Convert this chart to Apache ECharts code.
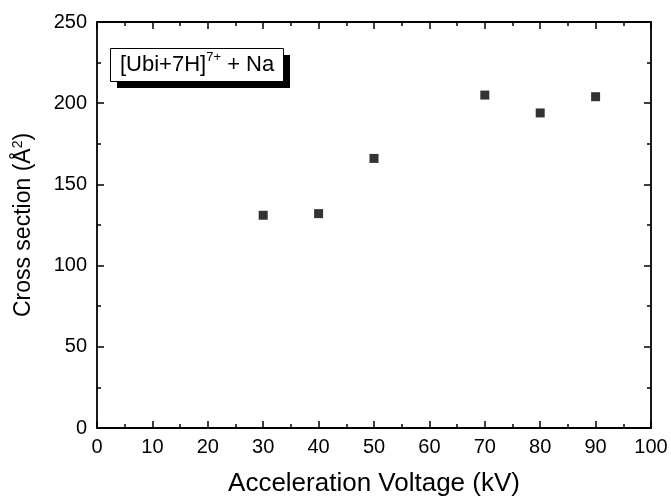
<!DOCTYPE html>
<html><head><meta charset="utf-8">
<script src="https://cdn.jsdelivr.net/npm/echarts@6/dist/echarts.min.js"></script>
<style>html,body{margin:0;padding:0;background:#fff}#c{width:671px;height:498px}</style>
</head><body><div id="c"></div>
<script>
var voltages = [30, 40, 50, 70, 80, 90];
var crossSections = [131, 132, 166, 205, 194, 204];
var xTicks = [0, 10, 20, 30, 40, 50, 60, 70, 80, 90, 100];
var yTicks = [0, 50, 100, 150, 200, 250];

var chart = echarts.init(document.getElementById('c'));
var font = 'Liberation Sans, Arial, sans-serif';
function axisCommon(extra) {
  var o = {
    axisLine: {show: true, onZero: false, lineStyle: {color: '#000', width: 1.8}},
    axisTick: {show: true, inside: true, length: 7, lineStyle: {color: '#000', width: 1.5}},
    minorTick: {show: true, splitNumber: 2, length: 4, lineStyle: {color: '#000', width: 1.5}},
    splitLine: {show: false},
    minorSplitLine: {show: false}
  };
  for (var k in extra) o[k] = extra[k];
  return o;
}
chart.setOption({
  animation: false,
  grid: {left: 97, right: 20, top: 22, bottom: 70, containLabel: false, outerBoundsMode: 'none'},
  xAxis: [
    axisCommon({type: 'value', min: xTicks[0], max: xTicks[xTicks.length-1], interval: xTicks[1]-xTicks[0],
      name: 'Acceleration Voltage (kV)', nameLocation: 'middle', nameGap: 43,
      nameTextStyle: {fontFamily: font, fontSize: 26, color: '#000'},
      axisLabel: {fontFamily: font, fontSize: 20, color: '#000', margin: 9}}),
    axisCommon({type: 'value', min: xTicks[0], max: xTicks[xTicks.length-1], interval: xTicks[1]-xTicks[0], position: 'top',
      axisLabel: {show: false}})
  ],
  yAxis: [
    axisCommon({type: 'value', min: yTicks[0], max: yTicks[yTicks.length-1], interval: yTicks[1]-yTicks[0], position: 'left',
      name: '{n|Cross section (Å}{s|2}{n|)}', nameLocation: 'middle', nameGap: 60,
      nameTextStyle: {rich: {n: {fontFamily: font, fontSize: 23, color: '#000'},
        s: {fontFamily: font, fontSize: 14, color: '#000', verticalAlign: 'top', padding: [0,0,12,0]}}},
      axisLabel: {fontFamily: font, fontSize: 20, color: '#000', margin: 10}}),
    axisCommon({type: 'value', min: yTicks[0], max: yTicks[yTicks.length-1], interval: yTicks[1]-yTicks[0], position: 'right',
      axisLabel: {show: false}})
  ],
  series: [{
    type: 'scatter', symbol: 'rect', symbolSize: 9,
    itemStyle: {color: '#000'},
    data: voltages.map(function(v, i){ return [v, crossSections[i]]; })
  }],
  graphic: [
    {type: 'rect', left: 117, top: 55, shape: {width: 173, height: 33},
     style: {fill: '#000'}, z: 10},
    {type: 'rect', left: 110, top: 48, shape: {width: 173, height: 33},
     style: {fill: '#fff', stroke: '#000', lineWidth: 1}, z: 11},
    {type: 'text', left: 120, top: 51, z: 12,
     style: {text: '{n|[Ubi+7H]}{s|7+}{n| + Na}',
       rich: {n: {fontFamily: font, fontSize: 22, fill: '#000', lineHeight: 28},
              s: {fontFamily: font, fontSize: 13, fill: '#000', verticalAlign: 'top', padding: [0,0,15,0]}}}}
  ]
});
</script></body></html>
